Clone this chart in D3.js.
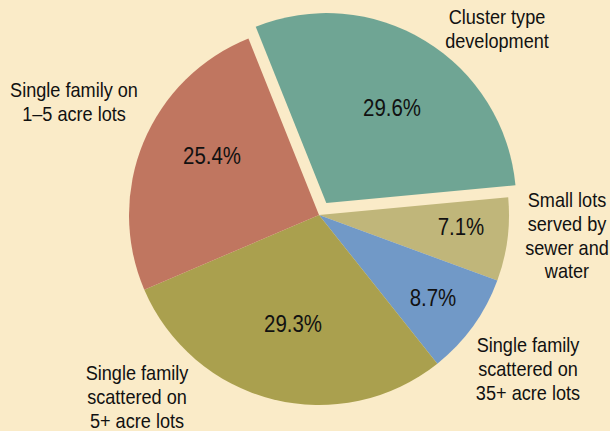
<!DOCTYPE html>
<html lang="en">
<head>
<meta charset="UTF-8">
<title>Land use pie</title>
<script src="https://d3js.org/d3.v7.min.js"></script>
<style>
  body { margin: 0; background: #faebc8; }
  svg { display: block; }
  text { font-family: "Liberation Sans", Arial, sans-serif; fill: #111; }
</style>
</head>
<body>
<div id="chart"></div>
<script>
// slice data, clockwise from the top-left
const categories = ["Cluster type development", "Small lots served by sewer and water",
  "Single family scattered on 35+ acre lots", "Single family scattered on 5+ acre lots",
  "Single family on 1\u20135 acre lots"];
const values = [29.6, 7.1, 8.7, 29.3, 25.4];
const colors = ["#6fa594", "#c0b67a", "#7199c7", "#aaa04e", "#c07660"];
const labelLines = [
  ["Cluster type", "development"],
  ["Small lots", "served by", "sewer and", "water"],
  ["Single family", "scattered on", "35+ acre lots"],
  ["Single family", "scattered on", "5+ acre lots"],
  ["Single family on", "1\u20135 acre lots"]
];
const exploded = [true, false, false, false, false];

const width = 610, height = 431;
const cx = 319, cy = 215, r = 190;
const startDeg = -21.8;
// narrow type, like the condensed face in the print
const capSqueeze = 0.93, pctSqueeze = 0.87;

// layout: caption first-line centres and percentage label centres
const captionPos = [[497, 17], [567, 200], [528, 345], [137, 373], [74, 90]];
const pctPos = [[392, 107], [461, 226], [433, 297], [293, 323], [212, 155]];

const svg = d3.select("#chart").append("svg")
  .attr("width", width).attr("height", height);

svg.append("rect").attr("width", width).attr("height", height).attr("fill", "#faebc8");

const data = values.map((v, i) => ({ name: categories[i], value: v, i: i }));

const pie = d3.pie()
  .sort(null)
  .value(d => d.value)
  .startAngle(startDeg * Math.PI / 180)
  .endAngle((startDeg + 360) * Math.PI / 180);

const arcs = pie(data);
const arc = d3.arc().innerRadius(0).outerRadius(r);

const g = svg.append("g").attr("transform", `translate(${cx},${cy})`);

function offset(d) {
  if (!exploded[d.data.i]) return [0, 0];
  const a = (d.startAngle + d.endAngle) / 2;
  return [Math.sin(a) * 14, -Math.cos(a) * 14];
}

g.selectAll("path.slice")
  .data(arcs)
  .enter()
  .append("path")
  .attr("class", "slice")
  .attr("d", arc)
  .attr("fill", d => colors[d.data.i])
  .attr("stroke", "none")
  .attr("transform", d => `translate(${offset(d)})`);

// percentage labels inside the slices
svg.selectAll("text.pct")
  .data(arcs)
  .enter()
  .append("text")
  .attr("class", "pct")
  .attr("text-anchor", "middle")
  .attr("font-size", 23.5)
  .attr("transform", d => `translate(${pctPos[d.data.i][0]},${pctPos[d.data.i][1] + 8.5}) scale(${pctSqueeze},1)`)
  .text(d => d.data.value.toFixed(1) + "%");

// outer captions
const caps = svg.selectAll("text.cap")
  .data(arcs)
  .enter()
  .append("text")
  .attr("class", "cap")
  .attr("text-anchor", "middle")
  .attr("font-size", 19.5)
  .attr("transform", d => `translate(${captionPos[d.data.i][0]},${captionPos[d.data.i][1] + 7}) scale(${capSqueeze},1)`);

caps.each(function(d) {
  const t = d3.select(this);
  labelLines[d.data.i].forEach((line, k) => {
    t.append("tspan")
      .attr("x", 0)
      .attr("y", k * 23.8)
      .text(line);
  });
});
</script>
</body>
</html>
